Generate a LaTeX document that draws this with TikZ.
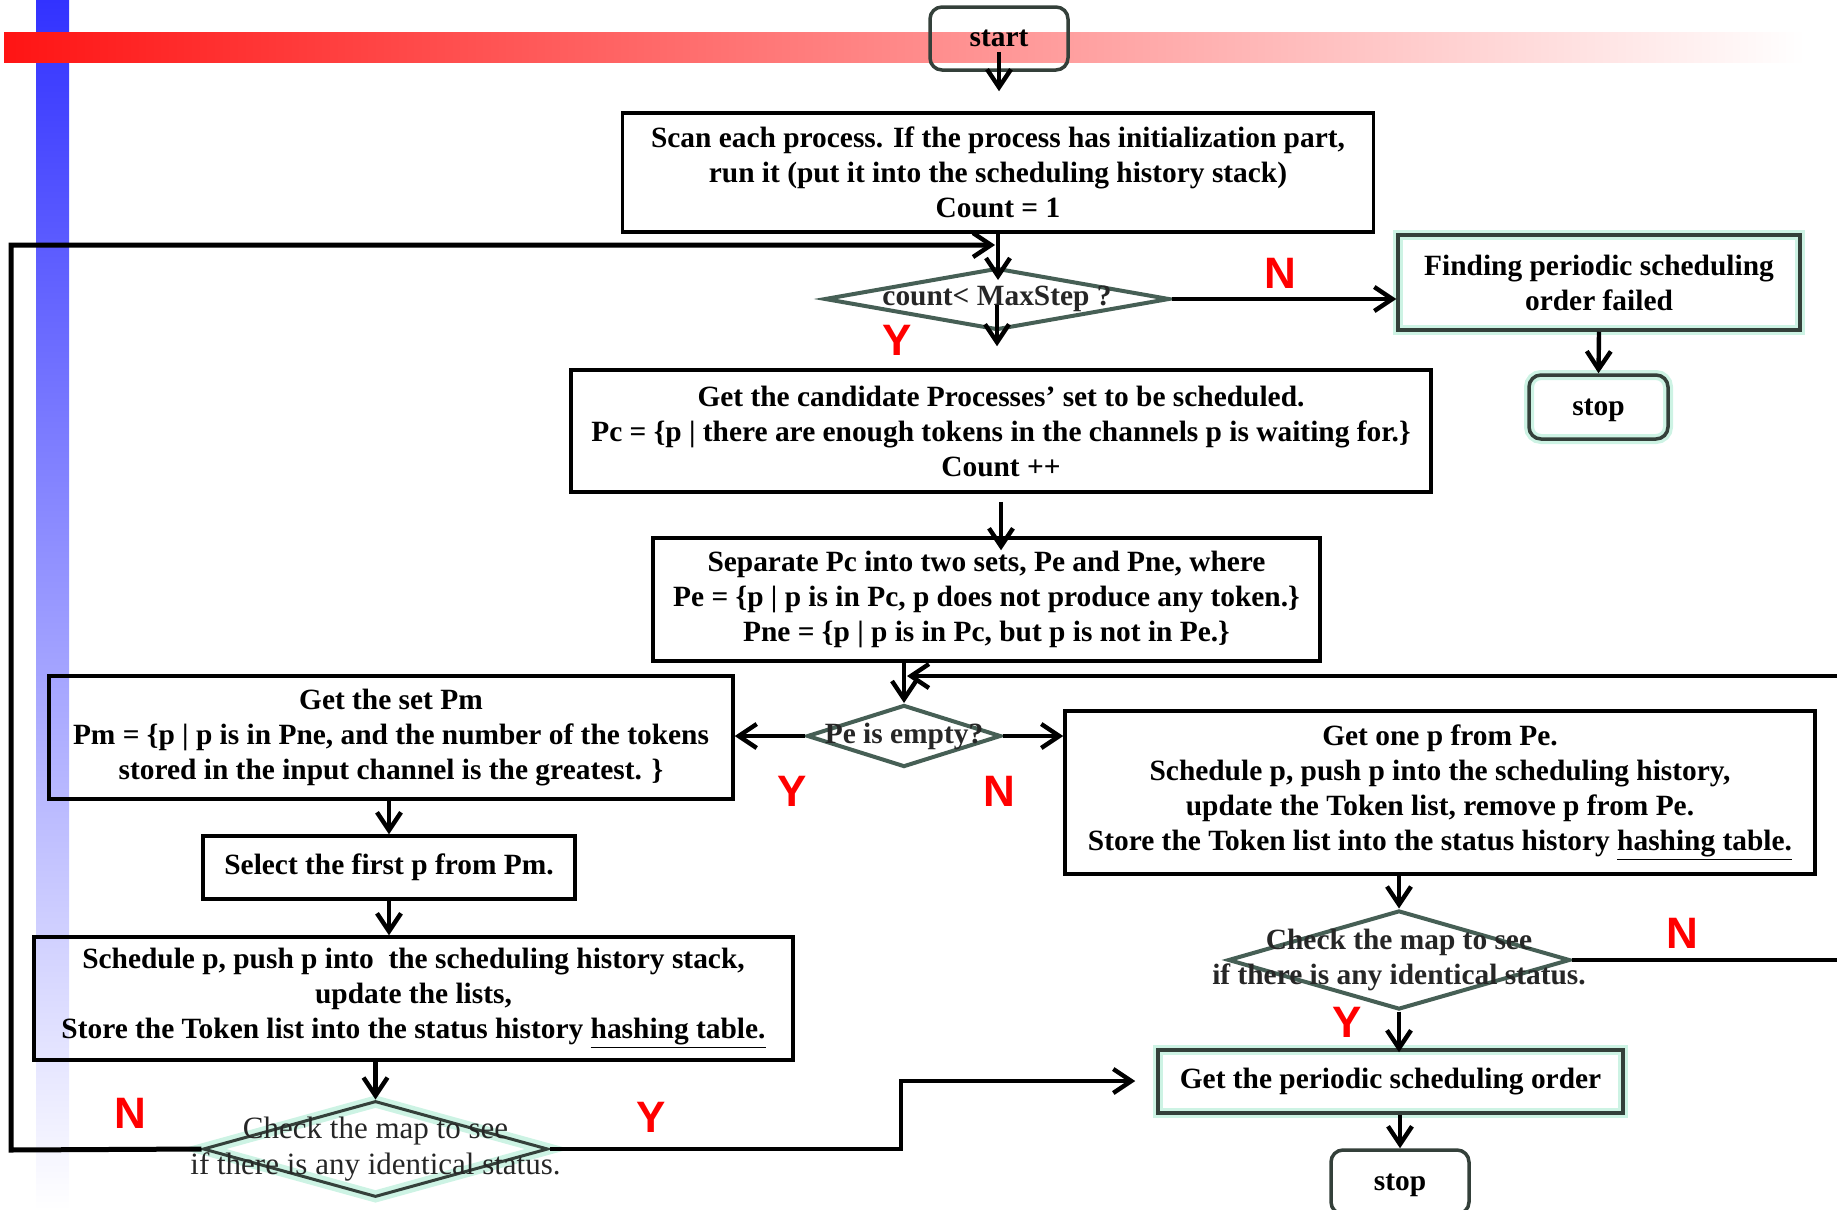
\documentclass[tikz,border=0pt]{standalone}
\usepackage{fontspec}
\setmainfont{Liberation Serif}
\newfontfamily\labfont{Liberation Sans}
\usetikzlibrary{arrows.meta,shapes.geometric}
\definecolor{glow}{RGB}{205,243,228}
\definecolor{dgray}{RGB}{52,64,58}
\definecolor{dtex}{RGB}{70,95,85}
\definecolor{ynred}{RGB}{255,0,0}
\definecolor{barred}{RGB}{255,20,20}
\definecolor{barblue}{RGB}{50,50,255}
\begin{document}
\begin{tikzpicture}[x=0.5pt,y=-0.5pt,
  txt/.style={font=\bfseries\fontsize{14.7}{17.5}\selectfont, align=center},
  box/.style={txt, draw=black, line width=1.75pt, rectangle, inner sep=0pt},
  glowbox/.style={box, draw=dgray, preaction={draw=glow, line width=5pt}},
  termbox/.style={rounded corners=6pt, text depth=0pt},
  dia/.style={diamond, draw=dtex, line width=2pt, inner sep=0pt},
  diatxt/.style={txt, text=black!85},
  arr/.style={line width=2.2pt, -{Straight Barb[length=9pt,width=12pt,line width=2.2pt]}},
  yn/.style={font=\labfont\bfseries\fontsize{22}{22}\selectfont, text=ynred, inner sep=0pt}]
\useasboundingbox (0,0) rectangle (1837,1210);
% background bars
\shade[top color=barblue, bottom color=white] (36,0) rectangle (69,1210);
\shade[left color=barred, middle color=barred!30!white, right color=white] (4,32) rectangle (1805,62);

% nodes
\node[box, termbox, draw=dgray, minimum width=69pt, minimum height=31.5pt] (start) at (999,38.5) {start};
\node[box, minimum width=375.5pt, minimum height=59.5pt] (scan) at (998,172.5)
  {Scan each process. If the process has initialization part,\\run it (put it into the scheduling history stack)\\Count = 1};
\node[dia, minimum width=172.5pt, minimum height=31pt] (count) at (997,299) {};
\node[diatxt] (countt) at (count.center) {count< MaxStep ?};
\node[glowbox, minimum width=201pt, minimum height=47.5pt] (finding) at (1599,282.5)
  {Finding periodic scheduling\\order failed};
\node[glowbox, termbox, minimum width=69.5pt, minimum height=32pt] (stopR) at (1598.5,407) {stop};
\node[box, minimum width=430pt, minimum height=61pt] (cand) at (1001,431)
  {Get the candidate Processes’ set to be scheduled.\\Pc = \{p | there are enough tokens in the channels p is waiting for.\}\\Count ++};
\node[box, minimum width=333.5pt, minimum height=61.5pt] (sep) at (986.5,599.5)
  {Separate Pc into two sets, Pe and Pne, where\\Pe = \{p | p is in Pc, p does not produce any token.\}\\Pne = \{p | p is in Pc, but p is not in Pe.\}};
\node[dia, minimum width=97pt, minimum height=31pt] (pe) at (904,736) {};
\node[diatxt] (pet) at (pe.center) {Pe is empty?};
\node[box, minimum width=342pt, minimum height=61.5pt] (pm) at (391,737.5)
  {Get the set Pm\\Pm = \{p | p is in Pne, and the number of the tokens\\stored in the input channel is the greatest. \}};
\node[box, minimum width=375pt, minimum height=81.5pt] (getp) at (1440,792.5)
  {Get one p from Pe.\\Schedule p, push p into the scheduling history,\\update the Token list, remove p from Pe.\\Store the Token list into the status history \underline{hashing table.}};
\node[box, minimum width=186pt, minimum height=31.5pt] (sel) at (389,867.5) {Select the first p from Pm.};
\node[box, minimum width=379.5pt, minimum height=61.5pt] (sched) at (413.5,998.5)
  {Schedule p, push p into\ \ the scheduling history stack,\\update the lists,\\Store the Token list into the status history \underline{hashing table.}};
\node[dia, draw=dgray, line width=1.5pt, preaction={draw=glow, line width=6pt}, minimum width=172.5pt, minimum height=48pt] (chkL) at (375.5,1149) {};
\node[txt, font=\fontsize{15.5}{18}\selectfont, text=black!85] (chkLt) at (chkL.center) {Check the map to see\\if there is any identical status.};
\node[dia, minimum width=171pt, minimum height=49.5pt] (chkR) at (1399,960) {};
\node[diatxt] (chkRt) at (chkR.center) {Check the map to see\\if there is any identical status.};
\node[glowbox, minimum width=232.5pt, minimum height=31.5pt] (per) at (1390.5,1081.5) {Get the periodic scheduling order};
\node[box, termbox, draw=dgray, minimum width=69pt, minimum height=32pt] (stopB) at (1400,1182) {stop};

% helper coordinates
\coordinate (loopB) at (11,1150);
\coordinate (loopT) at (11,245);
\coordinate (rB) at (1900,960);
\coordinate (rT) at (1900,676);
\coordinate (yB) at (901,1149);
\coordinate (yT) at (901,1081);

% connectors
\draw[arr] ([yshift=10pt]start.south) -- ([yshift=10pt]start.south |- scan.north);
\draw[arr] (scan.south) -- ([yshift=-7pt]scan.south |- count.north);
\draw[arr] ([yshift=-3pt]count.center) -- ([yshift=11pt]count.center |- cand.north);
\draw[arr] (count.east) -- (count.east -| finding.west);
\draw[arr] (finding.south) -- (stopR.north);
\draw[arr] ([yshift=-4pt]cand.south) -- ([yshift=-7pt]cand.south |- sep.north);
\draw[arr] (sep.south -| pe.north) -- (pe.north);
\draw[arr] (pe.west) -- (pe.west -| pm.east);
\draw[arr] (pe.east) -- (pe.east -| getp.west);
\draw[arr] (pm.south -| sel.north) -- (sel.north);
\draw[arr] (sel.south) -- (sel.south |- sched.north);
\draw[arr] (sched.south -| chkL.north) -- (chkL.north);
\draw[arr] (getp.south -| chkR.north) -- (chkR.north);
\draw[arr] (chkR.south) -- ([yshift=-2pt]chkR.south |- per.north);
\draw[arr] (per.south -| stopB.north) -- (stopB.north);
\draw[arr, line width=2.5pt] (chkL.west) -- (loopB) -- (loopT) -- ([xshift=-1pt]loopT -| count.north);
\draw[arr] (chkR.east) -- (rB) -- (rT) -- ([xshift=1.5pt]rT -| pe.north);
\draw[arr] (chkL.east) -- (yB) -- (yT) -- ([xshift=-10.5pt]yT -| per.west);

% Y / N labels
\node[yn] (n1) at (1280,273) {N};
\node[yn] (y1) at (897,340) {Y};
\node[yn] (y2) at (792,791) {Y};
\node[yn] (n2) at (999,791) {N};
\node[yn] (n3) at (1682,933) {N};
\node[yn] (y3) at (1347,1022) {Y};
\node[yn] (n4) at (130,1113) {N};
\node[yn] (y4) at (651,1117) {Y};
\end{tikzpicture}
\end{document}
